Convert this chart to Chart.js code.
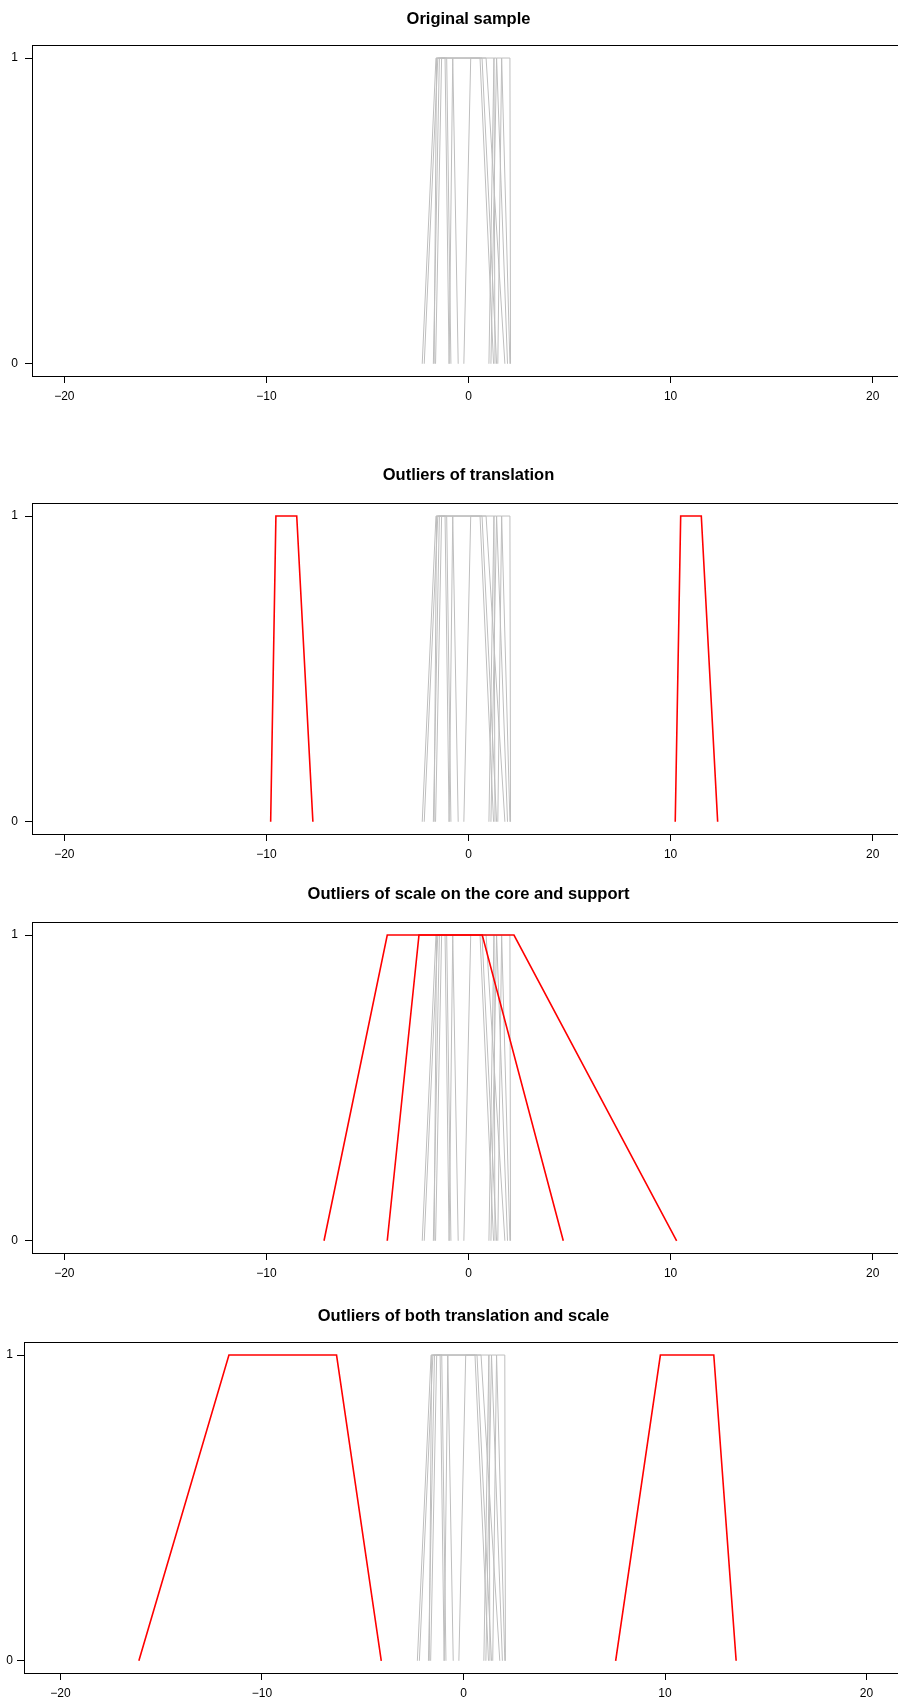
<!DOCTYPE html>
<html>
<head>
<meta charset="utf-8">
<script src="https://cdn.jsdelivr.net/npm/chart.js@4.4.1/dist/chart.umd.min.js"></script>
<style>
  html, body { margin: 0; padding: 0; background: #ffffff; }
  body { width: 898px; height: 1704px; overflow: hidden; position: relative; }
  canvas { position: absolute; left: 0; }
</style>
</head>
<body>
<canvas id="c1"></canvas>
<canvas id="c2"></canvas>
<canvas id="c3"></canvas>
<canvas id="c4"></canvas>
<script>
// ---- data (trapezoids: support left, core left, core right, support right) ----
const xTickValues = [-20, -10, 0, 10, 20];
const yTickValues = [0, 1];
const panelTitles = [
  'Original sample',
  'Outliers of translation',
  'Outliers of scale on the core and support',
  'Outliers of both translation and scale'
];
const sampleTrapezoids = [
  [-2.29, -1.61, -1.16, -0.96],
  [-2.19, -1.52, -1.08, -0.87],
  [-1.74, -1.44, -0.78, -0.51],
  [-1.63, -1.33, 0.57, 1.24],
  [-0.23, 0.11, 0.67, 1.39],
  [1.01, 1.26, 1.39, 1.93],
  [1.11, 1.39, 1.64, 2.05],
  [-1.70, -1.58, 0.87, 1.80],
  [1.45, 1.64, 2.05, 2.08],
  [-0.96, -0.78, 1.26, 1.31]
];
const noOutliers = [];
const translationOutliers = [
  [-9.79, -9.53, -8.50, -7.70],
  [10.23, 10.50, 11.52, 12.33]
];
const scaleOutliers = [
  [-7.15, -4.02, 2.25, 10.30],
  [-4.02, -2.45, 0.68, 4.69]
];
const bothOutliers = [
  [-16.11, -11.64, -6.30, -4.08],
  [7.55, 9.77, 12.42, 13.53]
];

// ---- layout / style ----
const panelLayout = [
  { id: 'c1', top: 0,    axisLeft: 32, centerX: 468.5, xHalf: 21.6,  tPadTop: 10, tPadBot: 16, yPad: 7 },
  { id: 'c2', top: 458,  axisLeft: 32, centerX: 468.5, xHalf: 21.6,  tPadTop: 8,  tPadBot: 18, yPad: 7 },
  { id: 'c3', top: 877,  axisLeft: 32, centerX: 468.5, xHalf: 21.6,  tPadTop: 8,  tPadBot: 18, yPad: 7 },
  { id: 'c4', top: 1297, axisLeft: 24, centerX: 463.5, xHalf: 21.81, tPadTop: 10, tPadBot: 16, yPad: 4 }
];
const panelOutliers = [noOutliers, translationOutliers, scaleOutliers, bothOutliers];
const FONT = "'Liberation Sans', Arial, Helvetica, sans-serif";
const CANVAS_H = 407;
const X_AXIS_H = 31;

function trapPoints(t) {
  return [{x: t[0], y: 0}, {x: t[1], y: 1}, {x: t[2], y: 1}, {x: t[3], y: 0}];
}
function fmt(v) {
  return (v < 0 ? '\u2212' + Math.abs(v) : String(v));
}

panelLayout.forEach((p, i) => {
  const cv = document.getElementById(p.id);
  const w = 2 * p.centerX;
  cv.width = w; cv.height = CANVAS_H;
  cv.style.width = w + 'px'; cv.style.height = CANVAS_H + 'px';
  cv.style.top = p.top + 'px';

  const datasets = [];
  sampleTrapezoids.forEach(t => datasets.push({
    data: trapPoints(t), borderColor: 'rgb(190,190,190)', borderWidth: 1,
    showLine: true, pointRadius: 0, tension: 0, fill: false, order: 1
  }));
  panelOutliers[i].forEach(t => datasets.push({
    data: trapPoints(t), borderColor: '#ff0000', borderWidth: 1.6,
    showLine: true, pointRadius: 0, tension: 0, fill: false, order: 0
  }));

  new Chart(cv, {
    type: 'scatter',
    data: { datasets },
    options: {
      responsive: false, animation: false, devicePixelRatio: 1,
      layout: { padding: 0 },
      plugins: {
        legend: { display: false }, tooltip: { enabled: false },
        title: {
          display: true, text: panelTitles[i], color: '#000',
          font: { family: FONT, size: 16.5, weight: 'bold', lineHeight: 1.2 },
          padding: { top: p.tPadTop, bottom: p.tPadBot }
        }
      },
      scales: {
        x: {
          type: 'linear', position: 'bottom', min: -p.xHalf, max: p.xHalf,
          afterBuildTicks: s => { s.ticks = xTickValues.map(v => ({ value: v })); },
          afterFit: s => { s.height = X_AXIS_H; },
          ticks: { color: '#000', font: { family: FONT, size: 12 }, padding: 6,
                   autoSkip: false, maxRotation: 0, callback: v => fmt(v) },
          grid: { display: true, drawOnChartArea: false, drawTicks: true,
                  tickLength: 7, tickColor: '#000', tickWidth: 1 },
          border: { display: true, color: '#000', width: 1 }
        },
        xTop: {
          type: 'linear', position: 'top', min: -p.xHalf, max: p.xHalf,
          afterFit: s => { s.height = 0; },
          ticks: { display: false },
          grid: { display: false, drawTicks: false },
          border: { display: true, color: '#000', width: 1 }
        },
        y: {
          type: 'linear', position: 'left', min: -0.04, max: 1.04,
          afterBuildTicks: s => { s.ticks = yTickValues.map(v => ({ value: v })); },
          afterFit: s => { s.width = p.axisLeft; },
          ticks: { color: '#000', font: { family: FONT, size: 12 }, padding: p.yPad,
                   callback: v => fmt(v) },
          grid: { display: true, drawOnChartArea: false, drawTicks: true,
                  tickLength: 7, tickColor: '#000', tickWidth: 1 },
          border: { display: true, color: '#000', width: 1 }
        },
        yRight: {
          type: 'linear', position: 'right', min: -0.04, max: 1.04,
          afterFit: s => { s.width = p.axisLeft; },
          ticks: { display: false },
          grid: { display: false, drawTicks: false },
          border: { display: false }
        }
      }
    }
  });
});
</script>
</body>
</html>
